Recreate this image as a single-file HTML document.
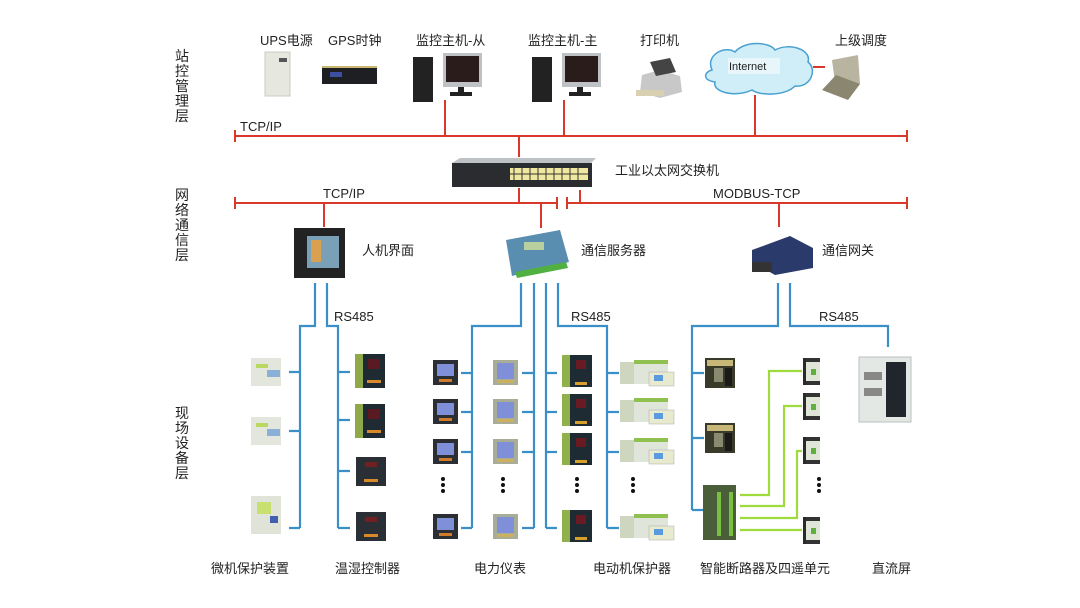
<!DOCTYPE html>
<html><head><meta charset="utf-8"><style>
html,body{margin:0;padding:0;background:#fff;}
svg{display:block;}
text{font-family:"Liberation Sans","Noto Sans CJK SC",sans-serif;fill:#222;}
</style></head><body>
<svg width="1080" height="608" viewBox="0 0 1080 608" xmlns="http://www.w3.org/2000/svg">
<defs>
<g id="ctl"><rect x="0" y="0" width="30" height="34" fill="#1f2b33"/><rect x="0" y="0" width="8" height="34" fill="#8fa84a"/><rect x="13" y="5" width="12" height="10" fill="#5b1a22"/><rect x="12" y="26" width="14" height="3" fill="#d88a2a"/></g>
<g id="ctl2"><rect x="0" y="0" width="30" height="29" fill="#2a2f36"/><rect x="9" y="5" width="12" height="5" fill="#702020"/><rect x="8" y="22" width="14" height="3" fill="#d88a2a"/></g>
<g id="mtr"><rect x="0" y="0" width="25" height="25" fill="#2b2f33"/><rect x="4" y="4" width="17" height="12" fill="#7f8fd8"/><rect x="6" y="19" width="13" height="3" fill="#d07b2a"/></g>
<g id="mtr2"><rect x="0" y="0" width="25" height="25" fill="#a8ad98"/><rect x="4" y="3" width="17" height="16" fill="#7f90d8"/><rect x="4" y="20" width="17" height="3" fill="#ccb060"/></g>
<g id="mot"><rect x="0" y="0" width="30" height="32" fill="#1f2b33"/><rect x="0" y="0" width="8" height="32" fill="#8fb04a"/><rect x="14" y="5" width="10" height="9" fill="#6a1a22"/><rect x="13" y="27" width="12" height="3" fill="#d8a02a"/></g>
<g id="mp"><rect x="0" y="2" width="14" height="22" fill="#cfd6c0"/><rect x="14" y="0" width="34" height="24" fill="#dfe5d8"/><rect x="14" y="0" width="34" height="4" fill="#8fc050"/><rect x="29" y="12" width="25" height="14" fill="#e8ead0" stroke="#aaa" stroke-width=".5"/><rect x="34" y="15" width="9" height="6" fill="#5a9be0"/></g>
<g id="brk"><rect x="0" y="0" width="17" height="27" fill="#dfe6d8"/><rect x="0" y="0" width="3" height="27" fill="#2a2a2a"/><rect x="3" y="0" width="14" height="4" fill="#333"/><rect x="3" y="23" width="14" height="4" fill="#333"/><rect x="8" y="11" width="5" height="6" fill="#5fb040"/></g>
<g id="acb"><rect x="0" y="0" width="30" height="30" fill="#3a3a2a"/><rect x="2" y="2" width="26" height="6" fill="#c8b878"/><rect x="9" y="10" width="9" height="14" fill="#8a8a70"/><rect x="20" y="10" width="7" height="18" fill="#1a1a1a"/></g>
<g id="rel"><rect x="0" y="0" width="30" height="28" fill="#e2e6dc"/><rect x="5" y="6" width="12" height="4" fill="#b8d860"/><rect x="16" y="12" width="13" height="7" fill="#8ab0d8"/></g>
</defs>

<!-- layer labels -->
<g font-size="14">
<text x="175" y="61">站</text><text x="175" y="76">控</text><text x="175" y="91">管</text><text x="175" y="106">理</text><text x="175" y="121">层</text>
<text x="175" y="200">网</text><text x="175" y="215">络</text><text x="175" y="230">通</text><text x="175" y="245">信</text><text x="175" y="260">层</text>
<text x="175" y="418">现</text><text x="175" y="433">场</text><text x="175" y="448">设</text><text x="175" y="463">备</text><text x="175" y="478">层</text>
</g>

<!-- top labels -->
<g font-size="13">
<text x="260" y="45">UPS电源</text><text x="328" y="45">GPS时钟</text>
<text x="416" y="45">监控主机-从</text><text x="528" y="45">监控主机-主</text>
<text x="640" y="45">打印机</text><text x="835" y="45">上级调度</text>
<text x="240" y="131">TCP/IP</text>
<text x="615" y="175">工业以太网交换机</text>
<text x="323" y="198">TCP/IP</text><text x="713" y="198">MODBUS-TCP</text>
<text x="362" y="255">人机界面</text><text x="581" y="255">通信服务器</text><text x="822" y="255">通信网关</text>
<text x="334" y="321">RS485</text><text x="571" y="321">RS485</text><text x="819" y="321">RS485</text>
<text x="211" y="573">微机保护装置</text><text x="335" y="573">温湿控制器</text><text x="474" y="573">电力仪表</text>
<text x="593" y="573">电动机保护器</text><text x="700" y="573">智能断路器及四遥单元</text><text x="872" y="573">直流屏</text>
</g>

<!-- top devices -->
<rect x="265" y="52" width="25" height="44" fill="#e6e8e0" stroke="#c8ccc0"/><rect x="279" y="58" width="8" height="4" fill="#555"/>
<rect x="322" y="66" width="55" height="18" fill="#1d1f22"/><rect x="322" y="66" width="55" height="2" fill="#cbb870"/><rect x="330" y="72" width="12" height="5" fill="#3d4fa0"/>
<rect x="413" y="57" width="20" height="45" fill="#222"/><rect x="443" y="53" width="39" height="34" fill="#bfc2c4"/><rect x="446" y="56" width="33" height="26" fill="#2a1c1a"/><rect x="458" y="87" width="6" height="6" fill="#222"/><rect x="450" y="92" width="22" height="4" fill="#222"/>
<rect x="532" y="57" width="20" height="45" fill="#222"/><rect x="562" y="53" width="39" height="34" fill="#bfc2c4"/><rect x="565" y="56" width="33" height="26" fill="#2a1c1a"/><rect x="577" y="87" width="6" height="6" fill="#222"/><rect x="569" y="92" width="22" height="4" fill="#222"/>
<path d="M642 75 L660 70 L680 76 L682 92 L660 98 L640 92 Z" fill="#c8c8c8"/><path d="M650 62 L670 58 L676 72 L656 76 Z" fill="#444"/><rect x="636" y="90" width="28" height="6" fill="#d8d0b0"/>
<path d="M712 70 C705 55,725 45,735 52 C745 40,770 42,775 50 C790 42,812 50,808 62 C818 70,810 88,795 86 C785 96,760 96,752 90 C735 98,712 92,715 82 C702 80,704 72,712 70 Z" fill="#cfeef8" stroke="#4aa0d0" stroke-width="1.5"/>
<rect x="728" y="58" width="52" height="16" fill="#e8f6fb"/><text x="729" y="70" font-size="11" font-family="Liberation Mono">Internet</text>
<path d="M832 60 L858 55 L860 84 L836 90 Z" fill="#b8b4a0"/><path d="M822 90 L836 75 L860 84 L848 100 Z" fill="#8a8670"/>

<!-- red network -->
<g stroke="#d8392b" stroke-width="2" fill="none">
<path d="M235 136 H907 M235 130 V142 M907 130 V142"/>
<path d="M445 100 V136 M564 100 V136 M755 95 V136 M813 67 H825 M519 136 V157"/>
<path d="M235 203 H557 M235 197 V209 M557 197 V209 M567 203 H907 M567 197 V209 M907 197 V209"/>
<path d="M519 188 V203 M580 190 V203 M324 203 V227 M541 203 V228 M779 203 V227"/>
</g>

<!-- switch -->
<path d="M452 163 L460 158 L596 158 L590 164 Z" fill="#bfc2c4"/>
<rect x="452" y="163" width="140" height="24" fill="#2a2c30"/><rect x="510" y="168" width="78" height="12" fill="#f0e8a0"/>
<g stroke="#333" stroke-width="1"><path d="M514 168 V180 M522 168 V180 M530 168 V180 M538 168 V180 M546 168 V180 M554 168 V180 M562 168 V180 M570 168 V180 M578 168 V180 M510 174 H588"/></g>

<!-- network devices -->
<rect x="294" y="228" width="51" height="50" fill="#222"/><rect x="307" y="236" width="32" height="32" fill="#7aa0b8"/><rect x="311" y="240" width="10" height="22" fill="#d8a050"/>
<path d="M506 240 L560 230 L569 262 L512 276 Z" fill="#5a8eb0"/><rect x="524" y="242" width="20" height="8" fill="#b8d0a0"/><path d="M515 272 L566 262 L568 268 L517 278 Z" fill="#50b040"/>
<path d="M752 250 L790 236 L813 248 L813 268 L775 275 L752 262 Z" fill="#2a3a6a"/><rect x="752" y="262" width="20" height="10" fill="#333"/>

<!-- blue RS485 -->
<g stroke="#3a8fc8" stroke-width="2.2" fill="none">
<path d="M315 283 V326 H300 V528 M300 372 H289 M300 431 H289 M300 528 H289"/>
<path d="M327 283 V326 H338 V528 M338 372 H350 M338 420 H350 M338 471 H350 M338 528 H350"/>
<path d="M521 283 V326 H472 V528 M472 373 H461 M472 412 H461 M472 452 H461 M472 528 H461"/>
<path d="M534 283 V528 M534 373 H522 M534 412 H522 M534 452 H522 M534 528 H522"/>
<path d="M546 283 V528 M546 373 H557 M546 412 H557 M546 452 H557 M546 528 H557"/>
<path d="M558 283 V326 H607 V528 M607 373 H619 M607 412 H619 M607 452 H619 M607 528 H619"/>
<path d="M778 283 V326 H692 V510 M692 373 H704 M692 438 H704 M692 510 H704"/>
<path d="M790 283 V326 H888 V347"/>
</g>
<!-- green -->
<g stroke="#9ddc3c" stroke-width="2.2" fill="none">
<path d="M740 495 H769 V371 H802 M740 506 H784 V406 H802 M740 518 H797 V451 H802 M740 530 H802"/>
</g>

<!-- field devices -->
<use href="#rel" x="251" y="358"/><use href="#rel" x="251" y="417"/>
<rect x="251" y="496" width="30" height="38" fill="#dfe3d8"/><rect x="257" y="502" width="14" height="12" fill="#c8e070"/><rect x="270" y="516" width="8" height="7" fill="#4060b0"/>
<use href="#ctl" x="355" y="354"/><use href="#ctl" x="355" y="404"/><use href="#ctl2" x="356" y="457"/><use href="#ctl2" x="356" y="512"/>
<use href="#mtr" x="433" y="360"/><use href="#mtr" x="433" y="399"/><use href="#mtr" x="433" y="439"/><use href="#mtr" x="433" y="514"/>
<use href="#mtr2" x="493" y="360"/><use href="#mtr2" x="493" y="399"/><use href="#mtr2" x="493" y="439"/><use href="#mtr2" x="493" y="514"/>
<use href="#mot" x="562" y="355"/><use href="#mot" x="562" y="394"/><use href="#mot" x="562" y="433"/><use href="#mot" x="562" y="510"/>
<use href="#mp" x="620" y="360"/><use href="#mp" x="620" y="398"/><use href="#mp" x="620" y="438"/><use href="#mp" x="620" y="514"/>
<use href="#acb" x="705" y="358"/><use href="#acb" x="705" y="423"/>
<rect x="703" y="485" width="33" height="55" fill="#4a5e3a"/><rect x="717" y="492" width="4" height="44" fill="#7ac040"/><rect x="729" y="492" width="4" height="44" fill="#7ac040"/>
<use href="#brk" x="803" y="358"/><use href="#brk" x="803" y="393"/><use href="#brk" x="803" y="437"/><use href="#brk" x="803" y="517"/>
<rect x="859" y="357" width="52" height="65" fill="#e4e8e4" stroke="#b8c0c0"/><rect x="886" y="362" width="20" height="55" fill="#20262c"/><rect x="864" y="372" width="18" height="8" fill="#888"/><rect x="864" y="388" width="18" height="8" fill="#888"/>

<!-- dots -->
<g fill="#111">
<circle cx="443" cy="479" r="2"/><circle cx="443" cy="485" r="2"/><circle cx="443" cy="491" r="2"/>
<circle cx="503" cy="479" r="2"/><circle cx="503" cy="485" r="2"/><circle cx="503" cy="491" r="2"/>
<circle cx="577" cy="479" r="2"/><circle cx="577" cy="485" r="2"/><circle cx="577" cy="491" r="2"/>
<circle cx="633" cy="479" r="2"/><circle cx="633" cy="485" r="2"/><circle cx="633" cy="491" r="2"/>
<circle cx="819" cy="479" r="2"/><circle cx="819" cy="485" r="2"/><circle cx="819" cy="491" r="2"/>
</g>
</svg>
</body></html>
